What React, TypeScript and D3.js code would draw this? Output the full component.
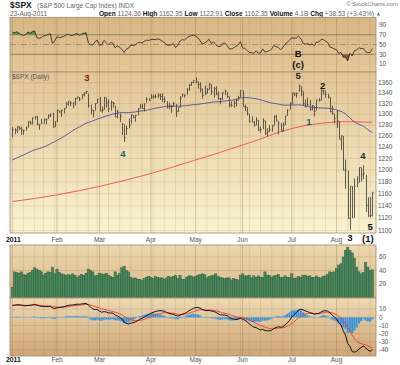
import React from 'react';
import * as d3 from 'd3';

// closes Oct-Dec 2010, used only to warm up the indicators
const warmupCloses = [
  1146.24, 1137.03, 1160.75, 1159.97, 1158.06, 1165.15, 1165.32, 1169.77, 1178.10, 1173.81, 1176.19,
  1184.71, 1165.90, 1178.17, 1180.26, 1183.08, 1185.62, 1185.64, 1182.45, 1183.78, 1183.26,
  1184.38, 1193.57, 1197.96, 1221.06, 1225.85, 1223.25, 1213.40, 1218.71, 1213.54, 1199.21, 1197.75,
  1178.34, 1178.59, 1196.69, 1199.73, 1197.84, 1180.73, 1198.35, 1189.40, 1187.76, 1180.55,
  1206.07, 1221.53, 1224.71, 1223.12, 1223.75, 1228.28, 1233.00, 1240.40, 1240.46, 1241.59, 1235.23,
  1242.87, 1243.91, 1247.08, 1254.60, 1258.84, 1256.77, 1257.54, 1258.51, 1259.78, 1257.88, 1257.64,
];

// daily closes 3-Jan-2011 .. 23-Aug-2011
const closes = [
  1271.87, 1270.20, 1276.56, 1273.85, 1271.50, 1269.75, 1274.48, 1285.96, 1283.76, 1293.24,
  1295.02, 1281.92, 1280.26, 1283.35, 1290.84, 1291.18, 1296.63, 1299.54, 1276.34, 1286.12,
  1307.59, 1304.03, 1307.10, 1310.87, 1319.05, 1324.57, 1320.88, 1321.87, 1329.15, 1332.32,
  1328.01, 1336.32, 1340.43, 1343.01, 1315.44, 1307.40, 1306.10, 1319.88, 1327.22,
  1306.33, 1308.44, 1330.97, 1321.15, 1310.13, 1321.82, 1320.02, 1295.11, 1304.28, 1296.39,
  1281.87, 1256.88, 1273.72, 1279.21, 1298.38, 1293.77, 1297.54, 1309.66, 1313.80, 1310.19,
  1319.44, 1328.26, 1325.83,
  1332.41, 1332.87, 1332.63, 1335.54, 1333.51, 1328.17, 1324.46, 1314.16, 1314.41, 1314.52,
  1319.68, 1305.14, 1312.62, 1330.36, 1337.38, 1335.25, 1347.24, 1355.66, 1360.48, 1363.61,
  1361.22, 1356.62, 1347.32, 1335.10, 1340.20, 1346.29, 1357.16, 1342.08, 1348.65, 1337.77,
  1329.47, 1328.98, 1340.68, 1343.60, 1333.27, 1317.37, 1316.28, 1320.47, 1325.69, 1331.10, 1345.20,
  1314.55, 1312.94, 1300.16, 1286.17, 1284.94, 1279.56, 1289.00, 1270.98, 1271.83, 1287.87,
  1265.42, 1267.64, 1271.50, 1278.36, 1295.52, 1287.14, 1283.50, 1268.45, 1280.10, 1296.67,
  1307.41, 1320.64,
  1339.67, 1337.88, 1339.22, 1353.22, 1343.80, 1319.49, 1313.64, 1317.72, 1308.87, 1316.14,
  1305.44, 1326.73, 1325.84, 1343.80, 1345.02, 1337.43, 1331.94, 1304.89, 1300.67, 1292.28,
  1286.94, 1254.05, 1260.34, 1200.07, 1199.38, 1119.46, 1172.53, 1120.76, 1172.64, 1178.81,
  1204.49, 1192.76, 1193.89, 1140.65, 1123.53, 1123.82, 1162.35,
];

const highs = [
  1276.17, 1274.12, 1277.63, 1278.17, 1276.83, 1271.52, 1277.25, 1286.87, 1287.61, 1293.24,
  1296.06, 1296.68, 1281.92, 1291.21, 1291.26, 1291.26, 1299.74, 1301.29, 1302.67, 1287.17,
  1308.10, 1306.96, 1308.60, 1311.00, 1322.85, 1324.87, 1324.57, 1321.87, 1330.79, 1332.91,
  1332.32, 1337.61, 1340.64, 1344.07, 1338.91, 1317.91, 1308.05, 1320.61, 1329.38,
  1332.28, 1314.39, 1332.28, 1331.08, 1327.68, 1325.74, 1323.21, 1315.72, 1308.35, 1301.33,
  1282.96, 1280.91, 1278.73, 1292.14, 1299.50, 1298.59, 1298.66, 1311.35, 1319.18, 1319.74,
  1319.54, 1331.74, 1329.77,
  1337.85, 1336.74, 1338.21, 1339.46, 1338.80, 1339.46, 1333.16, 1324.35, 1321.35, 1316.79,
  1322.88, 1319.13, 1312.62, 1334.25, 1337.49, 1337.38, 1349.55, 1357.49, 1361.71, 1364.56,
  1370.58, 1362.59, 1360.84, 1348.99, 1354.36, 1349.44, 1359.44, 1357.16, 1351.72, 1353.21,
  1343.33, 1330.42, 1341.89, 1346.82, 1342.00, 1333.27, 1323.73, 1325.88, 1328.51, 1334.62, 1345.20,
  1345.20, 1318.03, 1312.94, 1300.16, 1296.22, 1287.17, 1294.54, 1289.00, 1277.04, 1292.50,
  1287.87, 1274.11, 1279.82, 1280.42, 1297.62, 1298.61, 1286.79, 1283.50, 1284.93, 1296.67,
  1309.21, 1321.97,
  1341.01, 1340.83, 1340.89, 1356.48, 1352.84, 1343.31, 1327.17, 1331.48, 1326.68, 1317.07,
  1315.49, 1327.21, 1330.43, 1347.00, 1346.10, 1344.31, 1338.51, 1331.91, 1316.32, 1300.67,
  1307.38, 1286.94, 1261.26, 1260.10, 1218.11, 1198.74, 1172.88, 1172.64, 1185.53, 1189.04,
  1204.49, 1204.49, 1208.47, 1191.54, 1154.11, 1154.45, 1162.35,
];

const lows = [
  1257.62, 1262.66, 1265.36, 1270.43, 1261.70, 1262.18, 1269.62, 1275.36, 1280.66, 1281.07,
  1290.16, 1279.26, 1271.26, 1282.07, 1282.06, 1281.07, 1291.18, 1294.41, 1275.10, 1276.34,
  1286.12, 1302.61, 1294.83, 1301.43, 1311.01, 1316.03, 1314.89, 1311.13, 1316.08, 1329.15,
  1324.61, 1328.01, 1333.46, 1338.12, 1312.33, 1299.55, 1294.26, 1307.34, 1320.09,
  1305.34, 1302.58, 1307.91, 1312.59, 1303.99, 1306.86, 1312.27, 1294.21, 1291.99, 1285.37,
  1261.56, 1249.05, 1261.87, 1273.72, 1282.06, 1292.64, 1285.87, 1297.74, 1310.15, 1310.19,
  1305.26, 1321.89, 1325.03,
  1328.89, 1329.10, 1330.03, 1330.67, 1326.56, 1322.94, 1321.06, 1310.59, 1309.19, 1302.42,
  1313.68, 1294.70, 1303.97, 1312.62, 1332.50, 1331.47, 1336.74, 1344.25, 1353.60, 1358.69,
  1358.59, 1348.34, 1341.41, 1329.17, 1335.58, 1338.64, 1346.29, 1336.36, 1331.42, 1336.36,
  1327.32, 1318.51, 1326.59, 1336.12, 1330.67, 1312.59, 1313.87, 1311.80, 1314.41, 1325.69, 1331.10,
  1313.71, 1305.61, 1297.90, 1284.89, 1284.74, 1277.06, 1279.56, 1268.69, 1265.64, 1272.13,
  1261.90, 1258.07, 1267.40, 1267.56, 1278.40, 1286.79, 1262.79, 1267.24, 1267.53, 1280.10,
  1296.67, 1307.61,
  1318.00, 1334.30, 1330.92, 1342.17, 1333.71, 1316.42, 1313.33, 1314.49, 1306.51, 1307.11,
  1295.92, 1306.91, 1323.65, 1325.84, 1336.95, 1331.09, 1329.59, 1303.49, 1299.16, 1282.86,
  1274.73, 1254.03, 1234.56, 1199.54, 1168.09, 1119.28, 1101.54, 1120.76, 1121.05, 1170.74,
  1178.81, 1180.53, 1184.36, 1130.09, 1122.05, 1121.48, 1122.91,
];

// volume, hundreds of millions of shares
const volumes = [
  15, 38, 37, 36, 38, 34, 33, 36, 37, 40, 44, 42, 40, 38, 33, 36, 38, 37, 45, 35,
  42, 37, 35, 34, 33, 34, 33, 35, 33, 30, 32, 34, 33, 36, 42, 40, 38, 32, 33,
  36, 35, 34, 36, 33, 31, 30, 38, 33, 36, 44, 46, 40, 38, 30, 28, 29, 27, 27, 25, 28, 30, 31,
  30, 28, 31, 30, 29, 29, 27, 29, 31, 30, 31, 33, 28, 33, 27, 27, 30, 32, 32, 30,
  31, 33, 34, 35, 34, 29, 31, 32, 33, 35, 31, 30, 29, 28, 29, 29, 26, 28, 27, 26, 33,
  35, 32, 32, 33, 29, 32, 30, 32, 30, 30, 38, 33, 33, 30, 32, 33, 34, 30, 30, 32, 30, 30,
  35, 28, 29, 31, 30, 33, 33, 31, 32, 30, 30, 32, 30, 29, 31, 32, 34, 38, 37, 38,
  43, 48, 50, 60, 70, 74, 70, 66, 58, 45, 38, 35, 37, 52, 45, 40, 41,
];

// 200-day moving average at some bars
const ma200Bars = [0, 10, 20, 30, 40, 50, 60, 70, 80, 90, 100, 110, 120, 130, 140, 150, 161];
const ma200Vals = [1147, 1152, 1158, 1165, 1173, 1182, 1192, 1203, 1215, 1227, 1240, 1253, 1268, 1278, 1284, 1286, 1285];

const holidays = ['2011-01-17', '2011-02-21', '2011-04-22', '2011-05-30', '2011-07-04'];
const monthNames = ['2011', 'Feb', 'Mar', 'Apr', 'May', 'Jun', 'Jul', 'Aug'];
const priceTicks = [1100, 1120, 1140, 1160, 1180, 1200, 1220, 1240, 1260, 1280, 1300, 1320, 1340, 1360];
const rsiTicks = [90, 70, 50, 30, 10];
const volTicks = [20, 40, 60];
const macdTicks = [10, 0, -10, -20, -30, -40];

const waves = [
  { t: '3', i: 33.4, p: 1371, c: '#7a1f10' },
  { t: '4', i: 49.5, p: 1228, c: '#1b6464' },
  { t: 'B', i: 127.8, p: 1417, c: '#111' },
  { t: '(c)', i: 127.8, p: 1395, c: '#111' },
  { t: '5', i: 127.8, p: 1374, c: '#222' },
  { t: '2', i: 138.8, p: 1354, c: '#111' },
  { t: '1', i: 132.7, p: 1286, c: '#1b6464' },
  { t: '4', i: 156.8, p: 1225, c: '#153838' },
  { t: '5', i: 160, p: 1106, c: '#111' },
  { t: '3', i: 151, p: 1088.5, c: '#111' },
  { t: '(1)', i: 159, p: 1087.5, c: '#111' },
];

// trading calendar
const dates: Date[] = [];
{
  const d = new Date(2011, 0, 3);
  while (dates.length < closes.length) {
    const key = d3.timeFormat('%Y-%m-%d')(d);
    if (d.getDay() !== 0 && d.getDay() !== 6 && !holidays.includes(key)) dates.push(new Date(d));
    d.setDate(d.getDate() + 1);
  }
}

// indicators
const allCloses = warmupCloses.concat(closes);
const W = warmupCloses.length;
const ma50 = closes.map((_, i) => d3.mean(allCloses.slice(i + W - 49, i + W + 1)) as number);

function rsiSeries(c: number[], n: number) {
  const out: number[] = new Array(c.length).fill(NaN);
  let g = 0, l = 0;
  for (let k = 1; k <= n; k++) {
    const ch = c[k] - c[k - 1];
    if (ch > 0) g += ch; else l -= ch;
  }
  g /= n; l /= n;
  out[n] = 100 - 100 / (1 + g / l);
  for (let k = n + 1; k < c.length; k++) {
    const ch = c[k] - c[k - 1];
    g = (g * (n - 1) + Math.max(ch, 0)) / n;
    l = (l * (n - 1) + Math.max(-ch, 0)) / n;
    out[k] = 100 - 100 / (1 + g / l);
  }
  return out;
}
function ema(v: number[], n: number) {
  const a = 2 / (n + 1);
  const out: number[] = [];
  v.forEach((x, k) => out.push(k === 0 ? x : a * x + (1 - a) * out[k - 1]));
  return out;
}
const rsi = rsiSeries(allCloses, 14).slice(W);
const e12 = ema(allCloses, 12), e26 = ema(allCloses, 26);
const macdAll = e12.map((v, k) => v - e26[k]);
const sigAll = ema(macdAll, 9);
const macd = macdAll.slice(W);
const signal = sigAll.slice(W);
const hist = macd.map((v, k) => v - signal[k]);

const L = 10, R = 376;
const font = '"Liberation Sans", Arial, sans-serif';

export default function App() {
  const x = d3.scaleLinear().domain([0, closes.length - 1]).range([12.3, 372.3]);
  const bw = x(1) - x(0);
  const yP = d3.scaleLog().domain([1100, 1360]).range([230.7, 82.7]);
  const yR = d3.scaleLinear().domain([10, 90]).range([64, 25]);
  const yV = d3.scaleLinear().domain([0, 60]).range([297.5, 257]);
  const yM = d3.scaleLinear().domain([0, -40]).range([317.3, 350]);

  const P = { t: 72, b: 233 };
  const RS = { t: 17.5, b: 72 };
  const V = { t: 245, b: 298 };
  const M = { t: 298, b: 356 };

  const monthStarts: number[] = [];
  const weekStarts: number[] = [];
  dates.forEach((d, i) => {
    if (i === 0 || d.getMonth() !== dates[i - 1].getMonth()) monthStarts.push(i);
    else if (d.getDay() < dates[i - 1].getDay()) weekStarts.push(i);
  });

  const line = (ys: (v: number) => number) =>
    d3.line<number>().defined((v) => !isNaN(v)).x((_, i) => x(i)).y((v) => ys(v));
  const ma200Line = d3.line<number>().x((b) => x(b)).y((b, k) => yP(ma200Vals[k])).curve(d3.curveMonotoneX);

  const rsiArea70 = d3.area<number>().x((_, i) => x(i)).y0(yR(70)).y1((v) => yR(v));
  const rsiArea30 = d3.area<number>().x((_, i) => x(i)).y0(yR(30)).y1((v) => yR(v));

  const grid = (top: number, bot: number) => (
    <g>
      {weekStarts.map((i) => (
        <line key={'w' + i} x1={x(i)} x2={x(i)} y1={top} y2={bot} stroke="#8c6e3c" strokeOpacity={0.16} />
      ))}
      {monthStarts.map((i) => (
        <line key={'m' + i} x1={x(i)} x2={x(i)} y1={top} y2={bot} stroke="#8c6e3c" strokeOpacity={0.32} />
      ))}
    </g>
  );

  const axisText = { fontSize: 6.5, fill: '#555', fontFamily: font };

  return (
    <svg width={400} height={365} style={{ position: 'absolute', left: 0, top: 0, background: '#fff' }}>
      <defs>
        <linearGradient id="gP" x1="0" y1="0" x2="0" y2="1">
          <stop offset="0" stopColor="#e2c598" />
          <stop offset="1" stopColor="#faf3d0" />
        </linearGradient>
        <linearGradient id="gR" x1="0" y1="0" x2="0" y2="1">
          <stop offset="0" stopColor="#d8b584" />
          <stop offset="1" stopColor="#e4c89a" />
        </linearGradient>
        <linearGradient id="gV" x1="0" y1="0" x2="0" y2="1">
          <stop offset="0" stopColor="#ecd7ae" />
          <stop offset="1" stopColor="#d9b98b" />
        </linearGradient>
        <linearGradient id="gM" x1="0" y1="0" x2="0" y2="1">
          <stop offset="0" stopColor="#edd9b3" />
          <stop offset="1" stopColor="#cfa676" />
        </linearGradient>
        <clipPath id="cR"><rect x={L} y={RS.t} width={R - L} height={RS.b - RS.t} /></clipPath>
        <clipPath id="cR70"><rect x={L} y={RS.t} width={R - L} height={yR(70) - RS.t} /></clipPath>
        <clipPath id="cR30"><rect x={L} y={yR(30)} width={R - L} height={RS.b - yR(30)} /></clipPath>
        <clipPath id="cP"><rect x={L} y={P.t} width={R - L} height={P.b - P.t} /></clipPath>
        <clipPath id="cV"><rect x={L} y={V.t} width={R - L} height={V.b - V.t} /></clipPath>
        <clipPath id="cM"><rect x={L} y={M.t} width={R - L} height={M.b - M.t} /></clipPath>
      </defs>

      {/* header */}
      <text x={10} y={8} fontFamily={font} fontSize={8.5} fontWeight="bold" fill="#111">$SPX</text>
      <text x={37} y={8} fontFamily={font} fontSize={6.5} fill="#666">(S&amp;P 500 Large Cap Index) INDX</text>
      <text x={398} y={6} textAnchor="end" fontFamily={font} fontSize={6} fill="#777">© StockCharts.com</text>
      <text x={10} y={16} fontFamily={font} fontSize={6.5} fill="#666">23-Aug-2011</text>
      <text x={374} y={16} textAnchor="end" fontFamily={font} fontSize={6.6} fill="#666">
        <tspan fontWeight="bold" fill="#111">Open</tspan> 1124.36 <tspan fontWeight="bold" fill="#111">High</tspan> 1162.35{' '}
        <tspan fontWeight="bold" fill="#111">Low</tspan> 1122.91 <tspan fontWeight="bold" fill="#111">Close</tspan> 1162.35{' '}
        <tspan fontWeight="bold" fill="#111">Volume</tspan> 4.1B <tspan fontWeight="bold" fill="#111">Chg</tspan> +38.53 (+3.43%)
      </text>
      <path d="M377,15.5 L380,15.5 L378.5,12.5 Z" fill="#2a8a2a" />

      {/* RSI panel */}
      <rect x={L} y={RS.t} width={R - L} height={RS.b - RS.t} fill="url(#gR)" />
      {grid(RS.t, RS.b)}
      <line x1={L} x2={R} y1={yR(70)} y2={yR(70)} stroke="#8a7a60" strokeWidth={0.8} />
      <line x1={L} x2={R} y1={yR(30)} y2={yR(30)} stroke="#8a7a60" strokeWidth={0.8} />
      <line x1={L} x2={R} y1={yR(50)} y2={yR(50)} stroke="#8a7a60" strokeWidth={0.7} strokeDasharray="6,2,1,2" />
      <g clipPath="url(#cR70)"><path d={rsiArea70(rsi) || ''} fill="#4f8f4a" /></g>
      <g clipPath="url(#cR30)"><path d={rsiArea30(rsi) || ''} fill="#9a4a38" /></g>
      <g clipPath="url(#cR)"><path d={line(yR)(rsi) || ''} fill="none" stroke="#222" strokeWidth={0.8} /></g>
      <rect x={L} y={RS.t} width={R - L} height={RS.b - RS.t} fill="none" stroke="#a08c6c" strokeWidth={0.8} />
      {rsiTicks.map((t) => (
        <text key={t} x={379} y={yR(t) + 2.3} {...axisText}>{t}</text>
      ))}

      {/* price panel */}
      <rect x={L} y={P.t} width={R - L} height={P.b - P.t} fill="url(#gP)" />
      {priceTicks.map((t) => (
        <line key={t} x1={L} x2={R} y1={yP(t)} y2={yP(t)} stroke="#8c6e3c" strokeOpacity={0.16} />
      ))}
      {grid(P.t, P.b)}
      <g clipPath="url(#cP)">
        <path d={ma200Line(ma200Bars) || ''} fill="none" stroke="#f05a5a" strokeWidth={1} />
        <path d={line(yP)(ma50) || ''} fill="none" stroke="#4b4ba0" strokeWidth={0.9} />
        {closes.map((c, i) => {
          const xi = Math.round(x(i)) + 0.5;
          return (
            <g key={i} stroke="#4d4a40" strokeWidth={0.9}>
              <line x1={xi} x2={xi} y1={yP(highs[i])} y2={yP(lows[i])} />
              <line x1={xi} x2={xi + 1.2} y1={yP(c)} y2={yP(c)} />
            </g>
          );
        })}
      </g>
      <rect x={L} y={P.t} width={R - L} height={P.b - P.t} fill="none" stroke="#a08c6c" strokeWidth={0.8} />
      <text x={12} y={79} fontFamily={font} fontSize={6.5} fill="#555">$SPX (Daily)</text>
      {priceTicks.map((t) => (
        <text key={t} x={378} y={yP(t) + 2.3} {...axisText}>{t}</text>
      ))}

      {/* date strip */}
      {monthStarts.map((i, k) =>
        k === 0 ? (
          <text key={i} x={6} y={241.5} fontFamily={font} fontSize={6.8} fontWeight="bold" fill="#111">{monthNames[k]}</text>
        ) : (
          <text key={i} x={x(i)} y={241.5} textAnchor="middle" {...axisText}>{monthNames[k]}</text>
        )
      )}

      {/* volume panel */}
      <rect x={L} y={V.t} width={R - L} height={V.b - V.t} fill="url(#gV)" />
      {volTicks.map((t) => (
        <line key={t} x1={L} x2={R} y1={yV(t)} y2={yV(t)} stroke="#8c6e3c" strokeOpacity={0.2} />
      ))}
      {grid(V.t, V.b)}
      <g clipPath="url(#cV)">
        {volumes.map((v, i) => (
          <rect key={i} x={x(i) - bw / 2} y={yV(v)} width={bw} height={yV(0) - yV(v)} fill="#4a8a5e" stroke="#2c5a3c" strokeWidth={0.5} />
        ))}
      </g>
      <rect x={L} y={V.t} width={R - L} height={V.b - V.t} fill="none" stroke="#a08c6c" strokeWidth={0.8} />
      {volTicks.map((t) => (
        <text key={t} x={379} y={yV(t) + 2.3} {...axisText}>{t}</text>
      ))}

      {/* MACD panel */}
      <rect x={L} y={M.t} width={R - L} height={M.b - M.t} fill="url(#gM)" />
      {macdTicks.map((t) => (
        <line key={t} x1={L} x2={R} y1={yM(t)} y2={yM(t)} stroke="#8c6e3c" strokeOpacity={0.2} />
      ))}
      {grid(M.t, M.b)}
      <g clipPath="url(#cM)">
        {hist.map((h, i) => (
          <rect key={i} x={x(i) - bw / 2} y={Math.min(yM(h), yM(0))} width={bw} height={Math.abs(yM(h) - yM(0))} fill="#3f8fcf" stroke="#7fb6df" strokeWidth={0.4} />
        ))}
        <path d={line(yM)(signal) || ''} fill="none" stroke="#ee3b2b" strokeWidth={0.9} />
        <path d={line(yM)(macd) || ''} fill="none" stroke="#111" strokeWidth={1} />
      </g>
      <rect x={L} y={M.t} width={R - L} height={M.b - M.t} fill="none" stroke="#a08c6c" strokeWidth={0.8} />
      {macdTicks.map((t) => (
        <text key={t} x={379} y={yM(t) + 2.3} {...axisText}>{t}</text>
      ))}
      {monthStarts.map((i, k) =>
        k === 0 ? (
          <text key={i} x={6} y={362} fontFamily={font} fontSize={6.8} fontWeight="bold" fill="#111">{monthNames[k]}</text>
        ) : (
          <text key={i} x={x(i)} y={362} textAnchor="middle" {...axisText}>{monthNames[k]}</text>
        )
      )}

      {/* wave labels */}
      {waves.map((w, k) => (
        <text key={k} x={x(w.i)} y={yP(w.p)} dy="0.36em" textAnchor="middle" fontFamily={font} fontSize={9.5} fontWeight="bold" fill={w.c}>
          {w.t}
        </text>
      ))}
    </svg>
  );
}
